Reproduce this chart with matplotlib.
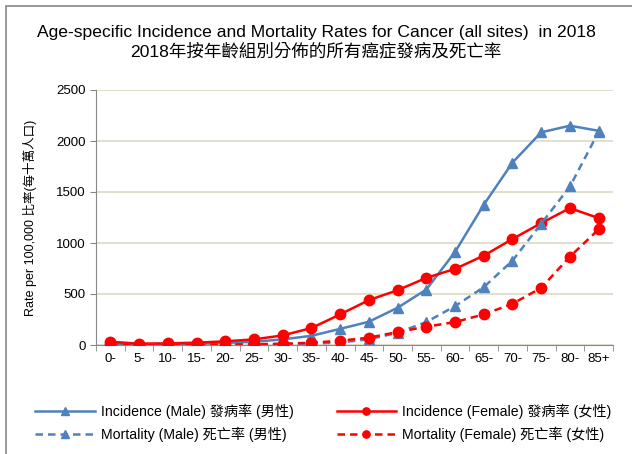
import numpy as np
import matplotlib
matplotlib.use("Agg")
import matplotlib.pyplot as plt
from matplotlib.patches import Rectangle

plt.rcParams['font.family'] = ['Liberation Sans', 'Noto Sans CJK TC', 'DejaVu Sans']

# data
age_groups = ['0-', '5-', '10-', '15-', '20-', '25-', '30-', '35-', '40-', '45-',
              '50-', '55-', '60-', '65-', '70-', '75-', '80-', '85+']
incidence_male = [15, 8, 10, 12, 20, 32, 55, 90, 158, 228, 365, 544, 912, 1375, 1788, 2085, 2150, 2100]
incidence_female = [32, 13, 16, 23, 36, 55, 94, 166, 300, 440, 537, 658, 746, 876, 1039, 1195, 1342, 1244]
mortality_male = [3, 2, 2, 3, 4, 5, 7, 12, 25, 55, 120, 225, 381, 567, 827, 1189, 1554, 2090]
mortality_female = [3, 2, 2, 3, 4, 7, 13, 22, 42, 72, 127, 179, 225, 300, 404, 560, 866, 1134]

blue = '#4F81BD'
red = '#FF0000'

fig = plt.figure(figsize=(6.32, 4.54), dpi=100)
ax = fig.add_axes([96/632, 1-345/454, (613-96)/632, 255/454])

x = np.arange(len(age_groups))
ax.plot(x, incidence_male, color=blue, lw=1.8, marker='^', ms=7.5,
        label='Incidence (Male) 發病率 (男性)', zorder=3)
ax.plot(x, incidence_female, color=red, lw=1.8, marker='o', ms=7.5,
        label='Incidence (Female) 發病率 (女性)', zorder=3)
ax.plot(x, mortality_male, color=blue, lw=1.8, ls=(0, (3, 2)), marker='^', ms=7.5,
        label='Mortality (Male) 死亡率 (男性)', zorder=3)
ax.plot(x, mortality_female, color=red, lw=1.8, ls=(0, (3, 2)), marker='o', ms=7.5,
        label='Mortality (Female) 死亡率 (女性)', zorder=3)

ax.set_xlim(-0.5, len(age_groups) - 0.5)
ax.set_ylim(0, 2500)
ax.set_yticks(range(0, 2501, 500))
ax.set_xticks(x)
ax.set_xticklabels(age_groups, fontsize=9.5)
ax.set_xticks(np.arange(-0.5, len(age_groups)), minor=True)
ax.tick_params(axis='x', which='major', length=0, pad=6)
ax.tick_params(axis='x', which='minor', length=4, color='#888888', direction='out')
ax.tick_params(axis='y', length=4, color='#888888', labelsize=9.5)
ax.yaxis.grid(True, color='#DDD9C3', lw=1.2)
ax.set_axisbelow(True)
for s in ['top', 'right']:
    ax.spines[s].set_visible(False)
for s in ['left', 'bottom']:
    ax.spines[s].set_color('#888888')
ax.set_ylabel('Rate per 100,000 比率(每十萬人口)', fontsize=9)
ax.yaxis.set_label_coords(-0.115, 0.5)

fig.text(0.5, 1-32/454, 'Age-specific Incidence and Mortality Rates for Cancer (all sites)  in 2018',
         ha='center', va='center', fontsize=12.6)
fig.text(0.5, 1-51/454, '2018年按年齡組別分佈的所有癌症發病及死亡率',
         ha='center', va='center', fontsize=12.6)

h, l = ax.get_legend_handles_labels()
order = [0, 2, 1, 3]
fig.legend([h[i] for i in order], [l[i] for i in order], ncol=2,
           loc='center', bbox_to_anchor=(0.512, 1-423/454), frameon=False,
           fontsize=10.2, handlelength=4.2, handletextpad=0.45, columnspacing=3.0,
           labelspacing=0.55, markerscale=0.7)

fig.patches.append(Rectangle((6/632, -0.1), 1.2, 1-6/454+0.1, transform=fig.transFigure,
                             fill=False, edgecolor='#888888', lw=1.2))

fig.savefig('out.png', dpi=100)
